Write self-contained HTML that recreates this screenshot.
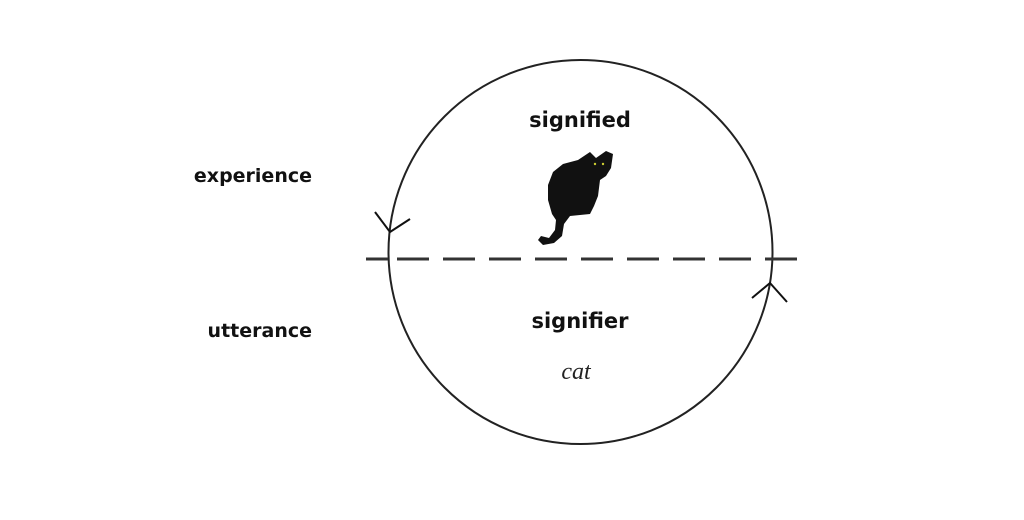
<!DOCTYPE html>
<html><head><style>
body{margin:0;width:1024px;height:516px;background:#fff;overflow:hidden;font-family:"DejaVu Sans","Liberation Sans",sans-serif}
</style></head><body>
<svg width="1024" height="516" xmlns="http://www.w3.org/2000/svg">
<circle cx="580.5" cy="252" r="192" fill="none" stroke="#222" stroke-width="2"/>
<line x1="366" y1="259" x2="797" y2="259" stroke="#333" stroke-width="3" stroke-dasharray="22,9,32,14,32,14,32,14,32,14,32,14,32,14,32,14,32,14,32,14,32,14"/>
<polyline points="375,212 390,232 410,219" fill="none" stroke="#111" stroke-width="2"/>
<polyline points="752,298 770,283 787,302" fill="none" stroke="#111" stroke-width="2"/>
<path d="M590,152 L596,158 L606,151 L613,154 L611,168 L606,176 L600,180 L598,196 L594,206 L590,214 L570,216 L564,224 L562,236 L554,243 L543,245 L538,240 L541,236 L549,238 L555,230 L556,220 L552,214 L548,200 L548,185 L553,172 L563,164 L578,160 Z" fill="#111"/>
<circle cx="595" cy="164" r="1.2" fill="#cc3"/><circle cx="603" cy="164" r="1.2" fill="#cc3"/>
<text x="580" y="127" text-anchor="middle" font-size="21" font-weight="bold" fill="#111">signified</text>
<text x="580" y="328" text-anchor="middle" font-size="21" font-weight="bold" fill="#111">signifier</text>
<text x="576" y="379" text-anchor="middle" font-size="24" font-style="italic" font-family="Liberation Serif,serif" fill="#222">cat</text>
<text x="312" y="182" text-anchor="end" font-size="19" font-weight="bold" fill="#111">experience</text>
<text x="312" y="337" text-anchor="end" font-size="19" font-weight="bold" fill="#111">utterance</text>
</svg>
</body></html>
